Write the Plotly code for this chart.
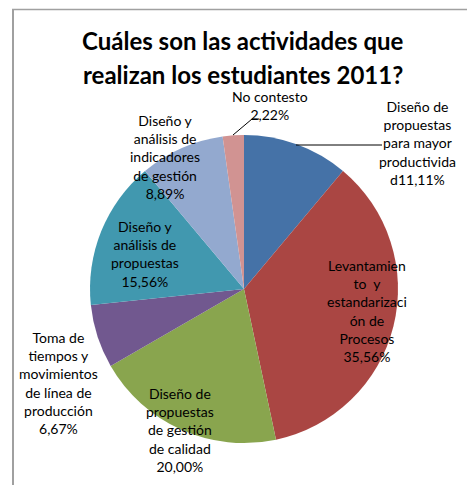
import plotly.graph_objects as go

# Survey results, clockwise from 12 o'clock
categories = [
    "Diseño de propuestas para mayor productividad",
    "Levantamiento y estandarización de Procesos",
    "Diseño de propuestas de gestión de calidad",
    "Toma de tiempos y movimientos de línea de producción",
    "Diseño y análisis de propuestas",
    "Diseño y análisis de indicadores de gestión",
    "No contesto",
]
percentages = [11.11, 35.56, 20.00, 6.67, 15.56, 8.89, 2.22]

# Data label wording as wrapped on the chart, and what joins it to the value
label_lines = [
    "Diseño de<br>propuestas<br>para mayor<br>productivida<br>d",
    "Levantamien<br>to  y<br>estandarizaci<br>ón de<br>Procesos",
    "Diseño de<br>propuestas<br>de gestión<br>de calidad",
    "Toma de<br>tiempos y<br>movimientos<br>de línea de<br>producción",
    "Diseño y<br>análisis de<br>propuestas",
    "Diseño y<br>análisis de<br>indicadores<br>de gestión",
    "No contesto",
]
label_joiners = ["", "<br>", "<br>", "<br>", "<br>", "<br>", "<br>"]

title_lines = ["Cuáles son las actividades que", "realizan los estudiantes 2011?"]

colors = ["#4572A7", "#AA4643", "#89A54E", "#71588F", "#4198AF", "#93A9CF", "#D19392"]

W, H = 467, 485


def px(x):
    return x / W


def py(y):
    return 1 - y / H


# label block centres in pixels
label_pos = [(417, 143), (367, 311), (180, 430), (58, 383), (145, 254), (165, 157), (270, 105)]

fig = go.Figure(
    go.Pie(
        labels=categories,
        values=percentages,
        sort=False,
        direction="clockwise",
        rotation=0,
        marker=dict(colors=colors, line=dict(width=0)),
        textinfo="none",
        hoverinfo="label+percent",
        domain=dict(x=[px(89), px(399)], y=[py(443), py(135)]),
        showlegend=False,
    )
)

annotations = []
for lines, join, val, (x, y) in zip(label_lines, label_joiners, percentages, label_pos):
    txt = lines + join + f"{val:.2f}".replace(".", ",") + "%"
    annotations.append(dict(
        text=txt, x=px(x), y=py(y), xref="paper", yref="paper",
        xanchor="center", yanchor="middle", showarrow=False, align="center",
        borderpad=0,
        font=dict(family="Lato", size=14, color="#000000"),
    ))

for line, y in zip(title_lines, [40, 74]):
    annotations.append(dict(
        text=f"<b>{line}</b>", x=px(243), y=py(y), xref="paper", yref="paper",
        xanchor="center", yanchor="middle", showarrow=False, borderpad=0,
        font=dict(family="Lato", size=24, color="#000000"),
    ))

shapes = [
    # chart frame (left and top edges)
    dict(type="line", xref="paper", yref="paper", x0=px(13), x1=px(13), y0=py(9), y1=-0.05,
         line=dict(color="#A0A0A0", width=2)),
    dict(type="line", xref="paper", yref="paper", x0=px(12), x1=1.05, y0=py(9.5), y1=py(9.5),
         line=dict(color="#A0A0A0", width=1.5)),
    # leader lines
    dict(type="path", xref="paper", yref="paper",
         path=f"M {px(296)} {py(145)} L {px(382)} {py(145)}",
         line=dict(color="#000000", width=1)),
    dict(type="path", xref="paper", yref="paper",
         path=f"M {px(233)} {py(135)} L {px(252)} {py(119)} L {px(259)} {py(119)}",
         line=dict(color="#000000", width=1)),
]

fig.update_layout(
    width=W, height=H,
    margin=dict(l=0, r=0, t=0, b=0),
    paper_bgcolor="#FFFFFF",
    plot_bgcolor="#FFFFFF",
    annotations=annotations,
    shapes=shapes,
)

fig.write_html("out.html")
